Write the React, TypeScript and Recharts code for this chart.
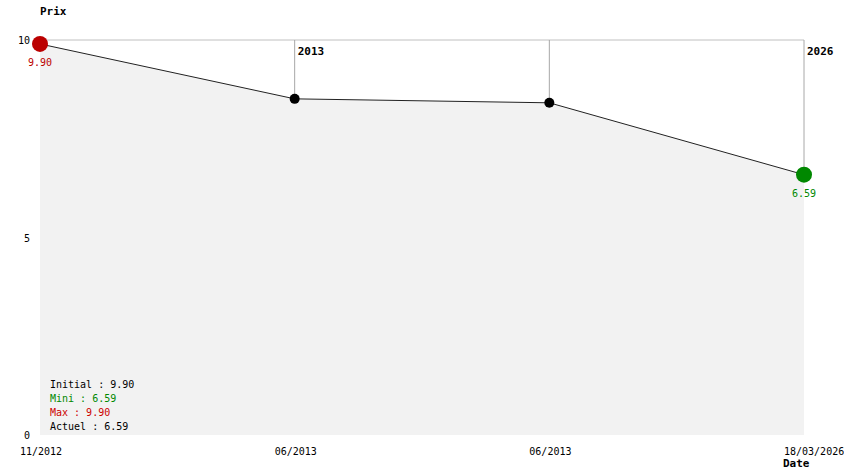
import React from 'react';
import { ComposedChart, Area, XAxis, YAxis, ReferenceLine, ReferenceDot, LabelList } from 'recharts';

const dateLabels = ['11/2012', '06/2013', '06/2013', '18/03/2026'];
const yearLabels = ['', '2013', '', '2026'];
const prices = [9.9, 8.51, 8.41, 6.59];
const yTicks = [0, 5, 10];
const summary = [
  { text: 'Initial : 9.90', color: '#000000' },
  { text: 'Mini : 6.59', color: '#008800' },
  { text: 'Max : 9.90', color: '#cc0000' },
  { text: 'Actuel : 6.59', color: '#000000' },
];

const data = prices.map((p, i) => ({ i, price: p, date: dateLabels[i], year: yearLabels[i] }));

const FONT = '"DejaVu Sans Mono", "Liberation Mono", monospace';

const XTick = (props: any) => {
  const { x, payload } = props;
  return (
    <text x={x - 20} y={455} fontFamily={FONT} fontSize={10} fill="#000" textAnchor="start">
      {dateLabels[payload.value]}
    </text>
  );
};

const YTick = (props: any) => {
  const { y, payload } = props;
  return (
    <text x={30} y={y + 4} fontFamily={FONT} fontSize={10} fill="#000" textAnchor="end">
      {payload.value}
    </text>
  );
};

const PointDot = (props: any) => {
  const { cx, cy, index } = props;
  const last = prices.length - 1;
  if (index === 0) return <circle key={index} cx={cx} cy={cy} r={8} fill="#bb0000" />;
  if (index === last) return <circle key={index} cx={cx} cy={cy} r={8} fill="#008800" />;
  return <circle key={index} cx={cx} cy={cy} r={5} fill="#000" />;
};

const ValueLabel = (props: any) => {
  const { x, y, index, value } = props;
  const last = prices.length - 1;
  if (index !== 0 && index !== last) return null;
  const color = index === 0 ? '#bb0000' : '#008800';
  return (
    <text x={x} y={y + 22} fontFamily={FONT} fontSize={10} fill={color} textAnchor="middle">
      {Number(value).toFixed(2)}
    </text>
  );
};

export default function App() {
  return (
    <div style={{ position: 'absolute', left: 0, top: 0, width: 844, height: 474, background: '#fff' }}>
      <ComposedChart width={844} height={474} data={data} margin={{ top: 40, right: 40, bottom: 0, left: 0 }}>
        <XAxis
          dataKey="i"
          type="number"
          domain={[0, 3]}
          ticks={[0, 1, 2, 3]}
          axisLine={false}
          tickLine={false}
          tick={<XTick />}
          height={39}
          interval={0}
        />
        <YAxis
          type="number"
          domain={[0, 10]}
          ticks={yTicks}
          axisLine={false}
          tickLine={false}
          tick={<YTick />}
          width={40}
          interval={0}
        />
        <ReferenceLine y={10} stroke="#c0c0c0" strokeWidth={1} />
        {data.map((d) => (
          <ReferenceLine
            key={'v' + d.i}
            segment={[{ x: d.i, y: 10 }, { x: d.i, y: d.price }]}
            stroke="#a8a8a8"
            strokeWidth={1}
          />
        ))}
        {data.map((d) =>
          d.year ? (
            <ReferenceDot
              key={'y' + d.i}
              x={d.i}
              y={10}
              r={0}
              fill="none"
              stroke="none"
              label={{
                content: (p: any) => (
                  <text
                    x={p.viewBox.x + 3}
                    y={p.viewBox.y + 15}
                    fontFamily={FONT}
                    fontSize={11}
                    fontWeight="bold"
                    fill="#000"
                  >
                    {d.year}
                  </text>
                ),
              }}
            />
          ) : null
        )}
        <Area
          type="linear"
          dataKey="price"
          stroke="#222"
          strokeWidth={1}
          fill="#f2f2f2"
          fillOpacity={1}
          dot={<PointDot />}
          activeDot={false}
          isAnimationActive={false}
        >
          <LabelList dataKey="price" content={<ValueLabel />} />
        </Area>
      </ComposedChart>
      <div style={{ position: 'absolute', left: 40, top: 5, fontFamily: FONT, fontSize: 11, fontWeight: 'bold', lineHeight: '14px' }}>
        Prix
      </div>
      <div style={{ position: 'absolute', left: 783, top: 458, fontFamily: FONT, fontSize: 11, fontWeight: 'bold', lineHeight: '12px' }}>
        Date
      </div>
      <div style={{ position: 'absolute', left: 50, top: 378, fontFamily: FONT, fontSize: 10, lineHeight: '14px' }}>
        {summary.map((s) => (
          <div key={s.text} style={{ color: s.color, whiteSpace: 'pre' }}>
            {s.text}
          </div>
        ))}
      </div>
    </div>
  );
}
